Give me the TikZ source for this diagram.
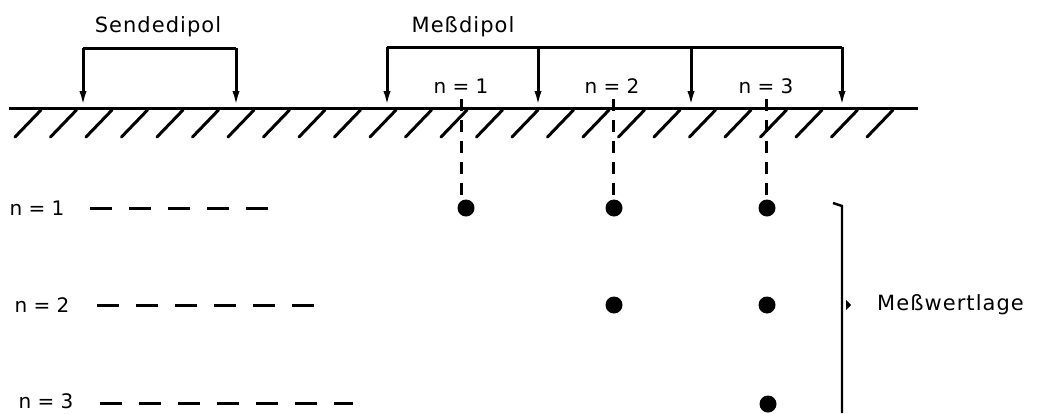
\documentclass[tikz,border=0pt]{standalone}
\usepackage{fontspec}
\setmainfont{DejaVu Sans}
\newfontfamily\wordfont[LetterSpace=5]{DejaVu Sans}
\usetikzlibrary{arrows.meta}
\begin{document}
\begin{tikzpicture}[x=1pt,y=-1pt,
  thick line/.style={line width=3pt},
  leg/.style={line width=3pt,-{Latex[length=17pt,width=7pt]}},
  hatch/.style={line width=3pt,line cap=round},
  lbl/.style={font=\fontsize{20}{23}\selectfont,inner sep=0pt},
  word/.style={font=\wordfont\fontsize{21}{24}\selectfont,inner sep=0pt},
  dot/.style={circle,fill=black,minimum size=17pt,inner sep=0pt},
  rowdash/.style={line width=3pt,dash pattern=on 22pt off 17pt},
  vdash/.style={line width=3pt,dash pattern=on 12pt off 9pt}]
\useasboundingbox (0,0) rectangle (1040,413);
% ground
\coordinate (g0) at (9,108);
\coordinate (g1) at (918,108);
\draw[thick line] (g0) -- (g1);
\foreach \i in {0,...,24}{
  \draw[hatch] ({15+35.5*\i},137) -- ({41+35.5*\i},110);
}
% Sendedipol
\node[word] (send) at (158,27) {Sendedipol};
\coordinate (s1t) at (83,48);
\coordinate (s2t) at (236,48);
\coordinate (s1b) at (83,108);
\coordinate (s2b) at (236,108);
\draw[thick line] (s1t) -- (s2t);
\draw[leg] (s1t) -- (s1b);
\draw[leg] (s2t) -- (s2b);
% Messdipol
\node[word] (mess) at (463,27) {Meßdipol};
\foreach \x/\n in {387/a,538/b,691/c,842/d}{
  \coordinate (m\n t) at (\x,47);
  \coordinate (m\n b) at (\x,108);
  \draw[leg] (m\n t) -- (m\n b);
}
\draw[thick line] (mat) -- (mdt);
\node[lbl] (t1) at (461,86) {n = 1};
\node[lbl] (t2) at (612,86) {n = 2};
\node[lbl] (t3) at (766,86) {n = 3};
% dots
\node[dot] (d11) at (466,208) {};
\node[dot] (d12) at (614,208) {};
\node[dot] (d13) at (767,208) {};
\node[dot] (d22) at (614,305) {};
\node[dot] (d23) at (767,305) {};
\node[dot] (d33) at (768,404) {};
\coordinate (v1) at (461,99);
\coordinate (v2) at (613,99);
\coordinate (v3) at (766,99);
\draw[vdash] (v1) -- (v1 |- d11.north);
\draw[vdash] (v2) -- (v2 |- d12.north);
\draw[vdash] (v3) -- (v3 |- d13.north);
% row labels
\node[lbl] (r1) at (37,208) {n = 1};
\node[lbl] (r2) at (42,305) {n = 2};
\node[lbl] (r3) at (46,401) {n = 3};
\coordinate (r1e) at (268,208);
\coordinate (r2e) at (315,305);
\coordinate (r3e) at (353,403);
\draw[rowdash] (90,208) -- (r1e);
\draw[rowdash] (97,305) -- (r2e);
\draw[rowdash] (100,403) -- (r3e);
% bracket
\coordinate (bt) at (842,206);
\coordinate (bb) at (842,413);
\coordinate (bh) at (833,203);
\draw[line width=2.4pt] (bh) -- (bt) -- (bb);
\fill (846,300) -- (851,305) -- (846,310) -- cycle;
\node[word,anchor=west] (mw) at (877,305) {Meßwertlage};
\end{tikzpicture}
\end{document}
